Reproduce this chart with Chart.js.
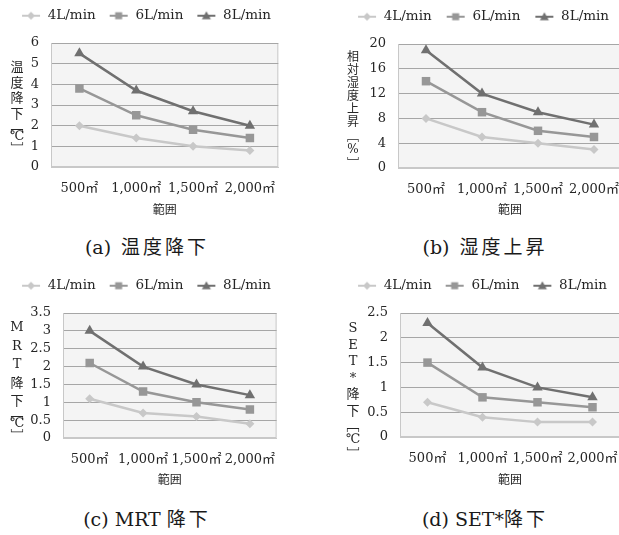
<!DOCTYPE html>
<html>
<head>
<meta charset="utf-8">
<script src="https://cdn.jsdelivr.net/npm/chart.js@4.4.0/dist/chart.umd.min.js"></script>
<style>
  html, body { margin: 0; padding: 0; background: #fff; }
  body { width: 619px; height: 535px; position: relative; overflow: hidden; }
  .panel { position: absolute; }
  .caption {
    position: absolute; width: 300px; text-align: center;
    font: 19px 'DejaVu Serif', 'Noto Sans CJK JP', serif; color: #1a1a1a;
    line-height: 22px;
  }
  .caption span { letter-spacing: 3px; margin-left: 10px; }
</style>
</head>
<body>
<div class="panel" style="left:0;top:0"><canvas id="chart-a" width="290" height="225"></canvas></div>
<div class="panel" style="left:310px;top:0"><canvas id="chart-b" width="346" height="225"></canvas></div>
<div class="panel" style="left:0;top:270px"><canvas id="chart-c" width="290" height="225"></canvas></div>
<div class="panel" style="left:310px;top:270px"><canvas id="chart-d" width="346" height="225"></canvas></div>
<div class="caption" style="left:-3px;top:236px">(a)<span>温度降下</span></div>
<div class="caption" style="left:335px;top:236px">(b)<span>湿度上昇</span></div>
<div class="caption" style="left:-3px;top:508px">(c) MRT<span style="margin-left:6px">降下</span></div>
<div class="caption" style="left:335px;top:508px">(d) SET*<span style="margin-left:0">降下</span></div>
<script>
// 데이터
const areaLabels = ['500㎡', '1,000㎡', '1,500㎡', '2,000㎡'];
const flowNames = ['4L/min', '6L/min', '8L/min'];

const tempDrop4 = [2.0, 1.4, 1.0, 0.8];
const tempDrop6 = [3.8, 2.5, 1.8, 1.4];
const tempDrop8 = [5.5, 3.7, 2.7, 2.0];

const humidRise4 = [8, 5, 4, 3];
const humidRise6 = [14, 9, 6, 5];
const humidRise8 = [19, 12, 9, 7];

const mrtDrop4 = [1.1, 0.7, 0.6, 0.4];
const mrtDrop6 = [2.1, 1.3, 1.0, 0.8];
const mrtDrop8 = [3.0, 2.0, 1.5, 1.2];

const setDrop4 = [0.7, 0.4, 0.3, 0.3];
const setDrop6 = [1.5, 0.8, 0.7, 0.6];
const setDrop8 = [2.3, 1.4, 1.0, 0.8];

const fontFamily = "'DejaVu Serif', 'Noto Sans CJK JP', serif";
const cjkFont = "'Noto Sans CJK JP', sans-serif";
const textColor = '#262626';
const seriesColors = ['#c8c8c8', '#979797', '#707070'];
const seriesStyles = ['rectRot', 'rect', 'triangle'];
const seriesRadius = [4.5, 6, 6];

Chart.defaults.font.family = fontFamily;
Chart.defaults.font.size = 13;
Chart.defaults.color = textColor;

// 범례 아이콘 (선 + 마커)
function makeLegendIcon(style, color) {
    const c = document.createElement('canvas');
    c.width = 24;
    c.height = 12;
    const g = c.getContext('2d');
    g.strokeStyle = color;
    g.fillStyle = color;
    g.lineWidth = 2;
    g.beginPath();
    g.moveTo(5, 6);
    g.lineTo(23, 6);
    g.stroke();
    g.beginPath();
    if (style === 'rectRot') {
        g.moveTo(14, 2); g.lineTo(18, 6); g.lineTo(14, 10); g.lineTo(10, 6);
    } else if (style === 'rect') {
        g.rect(10.5, 2.5, 7, 7);
    } else {
        g.moveTo(14, 1.5); g.lineTo(18.5, 9.5); g.lineTo(9.5, 9.5);
    }
    g.closePath();
    g.fill();
    return c;
}
const legendIcons = seriesStyles.map((s, i) => makeLegendIcon(s, seriesColors[i]));

// 플롯 영역 배경
const plotBackground = {
    id: 'plotBackground',
    beforeDraw(chart) {
        const { ctx, chartArea: a } = chart;
        ctx.save();
        ctx.fillStyle = '#f4f4f4';
        ctx.fillRect(a.left, a.top, a.right - a.left, a.bottom - a.top);
        ctx.strokeStyle = '#c8c8c8';
        ctx.lineWidth = 1;
        ctx.strokeRect(a.left + 0.5, a.top + 0.5, a.right - a.left - 1, a.bottom - a.top - 1);
        ctx.restore();
    }
};

// 범례 높이 고정 + 가로 위치 보정
const legendBox = {
    id: 'legendBox',
    afterInit(chart, args, opts) {
        const fit = chart.legend.fit;
        chart.legend.fit = function () {
            fit.call(this);
            this.height = opts.height;
        };
    },
    afterLayout(chart, args, opts) {
        chart.legend.left += opts.shift;
        chart.legend.right += opts.shift;
    }
};

// 세로쓰기 축 제목
const isBracket = ch => ch === '[' || ch === ']';
const verticalTitle = {
    id: 'verticalTitle',
    afterDraw(chart, args, opts) {
        const ctx = chart.ctx;
        const chars = Array.from(opts.text);
        ctx.save();
        ctx.fillStyle = textColor;
        ctx.textAlign = 'center';
        ctx.textBaseline = 'middle';
        let y = opts.top;
        chars.forEach((ch, i) => {
            if (i > 0) {
                y += (isBracket(ch) || isBracket(chars[i - 1])) ? opts.bracketStep : opts.step;
            }
            if (isBracket(ch)) {
                ctx.font = `${opts.size}px ${cjkFont}`;
                ctx.fillText(ch === '[' ? '﹇' : '﹈', opts.x, y);
            } else {
                ctx.font = `${opts.size}px ${fontFamily}`;
                ctx.fillText(ch, opts.x, y);
            }
        });
        ctx.restore();
    }
};

function buildChart(canvasId, series, cfg) {
    const datasets = series.map((data, i) => ({
        label: flowNames[i],
        data: data,
        borderColor: seriesColors[i],
        backgroundColor: seriesColors[i],
        borderWidth: 2.5,
        pointStyle: seriesStyles[i],
        pointRadius: seriesRadius[i],
        pointBorderWidth: 0,
        tension: 0
    }));

    return new Chart(document.getElementById(canvasId), {
        type: 'line',
        data: { labels: areaLabels, datasets },
        plugins: [plotBackground, legendBox, verticalTitle],
        options: {
            responsive: false,
            animation: false,
            layout: { padding: { top: 0, left: 0, right: cfg.padRight, bottom: 0 } },
            plugins: {
                tooltip: { enabled: false },
                legend: {
                    position: 'top',
                    labels: {
                        usePointStyle: true,
                        pointStyleWidth: 24,
                        padding: cfg.legendPad,
                        color: textColor,
                        font: { size: 13.5 },
                        generateLabels: chart => {
                            const items = Chart.defaults.plugins.legend.labels.generateLabels(chart);
                            items.forEach((it, i) => { it.pointStyle = legendIcons[i]; });
                            return items;
                        }
                    }
                },
                legendBox: { height: cfg.legendHeight, shift: cfg.legendShift },
                verticalTitle: {
                    text: cfg.title,
                    size: cfg.titleSize,
                    x: cfg.titleX,
                    top: cfg.titleTop,
                    step: cfg.titleStep,
                    bracketStep: cfg.bracketStep
                }
            },
            scales: {
                x: {
                    offset: true,
                    grid: { display: false, drawTicks: false },
                    border: { display: true, color: '#c8c8c8' },
                    ticks: { padding: 14, maxRotation: 0, autoSkip: false, color: textColor, font: { size: 13 } },
                    title: {
                        display: true,
                        text: '範囲',
                        color: textColor,
                        font: { size: 12, family: cjkFont },
                        padding: { top: 4, bottom: 8 }
                    },
                    afterFit: scale => { scale.height = cfg.xHeight; }
                },
                y: {
                    min: 0,
                    max: cfg.yMax,
                    grid: {
                        drawTicks: false,
                        color: c => (c.tick && c.tick.value === 0) ? '#c8c8c8' : '#a6a6a6'
                    },
                    border: { display: true, color: '#c8c8c8' },
                    ticks: {
                        stepSize: cfg.yStep,
                        autoSkip: false,
                        padding: 12,
                        color: textColor,
                        font: { size: 13 },
                        callback: v => String(+v.toFixed(2))
                    },
                    afterFit: scale => { scale.width = cfg.yWidth; }
                }
            }
        }
    });
}

buildChart('chart-a', [tempDrop4, tempDrop6, tempDrop8], {
    yMax: 6, yStep: 1, yWidth: 51, padRight: 8, xHeight: 58,
    legendPad: 9, legendHeight: 43, legendShift: 3,
    title: '温度降下[℃]', titleSize: 13, titleX: 17, titleTop: 68, titleStep: 15.5, bracketStep: 11.2
});

buildChart('chart-b', [humidRise4, humidRise6, humidRise8], {
    yMax: 20, yStep: 4, yWidth: 88, padRight: 34, xHeight: 57,
    legendPad: 10, legendHeight: 44, legendShift: 15,
    title: '相対湿度上昇[%]', titleSize: 12, titleX: 43, titleTop: 58, titleStep: 13, bracketStep: 13.5
});

buildChart('chart-c', [mrtDrop4, mrtDrop6, mrtDrop8], {
    yMax: 3.5, yStep: 0.5, yWidth: 63, padRight: 8, xHeight: 57,
    legendPad: 9, legendHeight: 43, legendShift: 3,
    title: 'MRT降下[℃]', titleSize: 13, titleX: 17, titleTop: 58, titleStep: 18.5, bracketStep: 11
});

buildChart('chart-d', [setDrop4, setDrop6, setDrop8], {
    yMax: 2.5, yStep: 0.5, yWidth: 90, padRight: 36, xHeight: 58,
    legendPad: 9, legendHeight: 43, legendShift: 15,
    title: 'SET*降下[℃]', titleSize: 13, titleX: 43, titleTop: 59, titleStep: 16.5, bracketStep: 14
});
</script>
</body>
</html>
